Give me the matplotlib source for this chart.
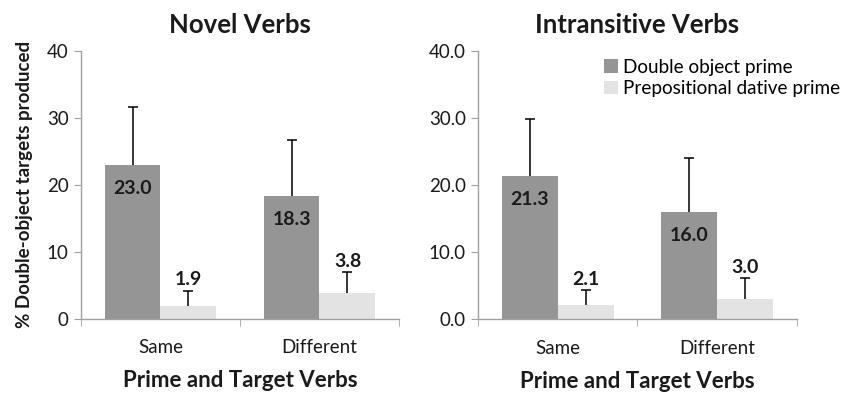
import matplotlib
matplotlib.use("Agg")
import matplotlib.pyplot as plt
import numpy as np
from matplotlib.ticker import FixedLocator, FormatStrFormatter
from matplotlib.patches import Patch

plt.rcParams['font.family'] = ['Lato', 'DejaVu Sans']

categories = ["Same", "Different"]
series_names = ["Double object prime", "Prepositional dative prime"]

novel_do = [23.0, 18.3]
novel_pd = [1.9, 3.8]
novel_do_err = [8.7, 8.4]
novel_pd_err = [2.2, 3.1]

intr_do = [21.3, 16.0]
intr_pd = [2.1, 3.0]
intr_do_err = [8.6, 8.0]
intr_pd_err = [2.2, 3.1]

titles = ["Novel Verbs", "Intransitive Verbs"]
xlabel = "Prime and Target Verbs"
ylabel = "% Double-object targets produced"
yticks = [0, 10, 20, 30, 40]

c_do = "#959595"
c_pd = "#e3e3e3"
spine_c = "#a0a0a0"
txt_c = "#1a1a1a"

fig = plt.figure(figsize=(8.45, 3.93), dpi=100)
ax1 = fig.add_axes([81/845, 1-318.5/393, (399-81)/845, (318.5-51)/393])
ax2 = fig.add_axes([478.3/845, 1-319/393, (796.7-478.3)/845, (319-51)/393])

data = [(novel_do, novel_pd, novel_do_err, novel_pd_err, "%d"),
        (intr_do, intr_pd, intr_do_err, intr_pd_err, "%.1f")]


def up_err(ax, xs, vals, errs):
    eb = ax.errorbar(xs, vals, yerr=[np.zeros(len(vals)), errs], fmt="none",
                     ecolor="black", elinewidth=1.1, capsize=3.5, capthick=1.1, zorder=3)
    caps = eb.lines[1]
    if len(caps) > 0:
        caps[0].set_visible(False)


w = 0.352
for ax, (do, pd_, doe, pde, fmt), title in zip([ax1, ax2], data, titles):
    x = np.arange(len(categories)) + 0.5
    ax.bar(x - w/2, do, width=w, color=c_do, edgecolor="none", zorder=2)
    ax.bar(x + w/2, pd_, width=w, color=c_pd, edgecolor="none", zorder=2)
    up_err(ax, x - w/2, do, doe)
    up_err(ax, x + w/2, pd_, pde)
    for xi, v in zip(x - w/2, do):
        ax.annotate("%.1f" % v, (xi, v), xytext=(0, -17), textcoords="offset points",
                    ha="center", va="center", fontsize=14, fontweight="bold", color=txt_c)
    for xi, v, e in zip(x + w/2, pd_, pde):
        ax.annotate("%.1f" % v, (xi, v + e), xytext=(0, 8), textcoords="offset points",
                    ha="center", va="center", fontsize=14, fontweight="bold", color=txt_c)
    ax.set_xlim(0, 2)
    ax.set_ylim(0, 40)
    ax.set_yticks(yticks)
    ax.yaxis.set_major_formatter(FormatStrFormatter(fmt))
    ax.set_xticks(x)
    ax.set_xticklabels(categories)
    ax.xaxis.set_minor_locator(FixedLocator([0, 1, 2]))
    ax.tick_params(axis="x", which="major", length=0, pad=15, labelsize=13.5, labelcolor=txt_c)
    ax.tick_params(axis="x", which="minor", length=5, color=spine_c, direction="out")
    ax.tick_params(axis="y", length=5, color=spine_c, direction="out", labelsize=13.5,
                   labelcolor=txt_c, pad=4)
    for s in ["top", "right"]:
        ax.spines[s].set_visible(False)
    for s in ["left", "bottom"]:
        ax.spines[s].set_color(spine_c)
        ax.spines[s].set_linewidth(1.0)
    ax.set_title(title, fontsize=18.5, fontweight="bold", pad=13, color=txt_c)
    ax.set_xlabel(xlabel, fontsize=16, fontweight="bold", labelpad=10, color=txt_c)

ax1.set_ylabel(ylabel, fontsize=13.5, fontweight="bold", color=txt_c, labelpad=10)

handles = [Patch(facecolor=c_do, edgecolor="none"), Patch(facecolor=c_pd, edgecolor="none")]
fig.legend(handles, series_names, loc="upper left", bbox_to_anchor=(604/845, 1-59/393),
           bbox_transform=fig.transFigure, frameon=False,
           fontsize=13.6, handlelength=0.75, handleheight=0.75, handletextpad=0.25,
           labelspacing=0.22, borderaxespad=0, borderpad=0)

fig.savefig("out.png", dpi=100)
